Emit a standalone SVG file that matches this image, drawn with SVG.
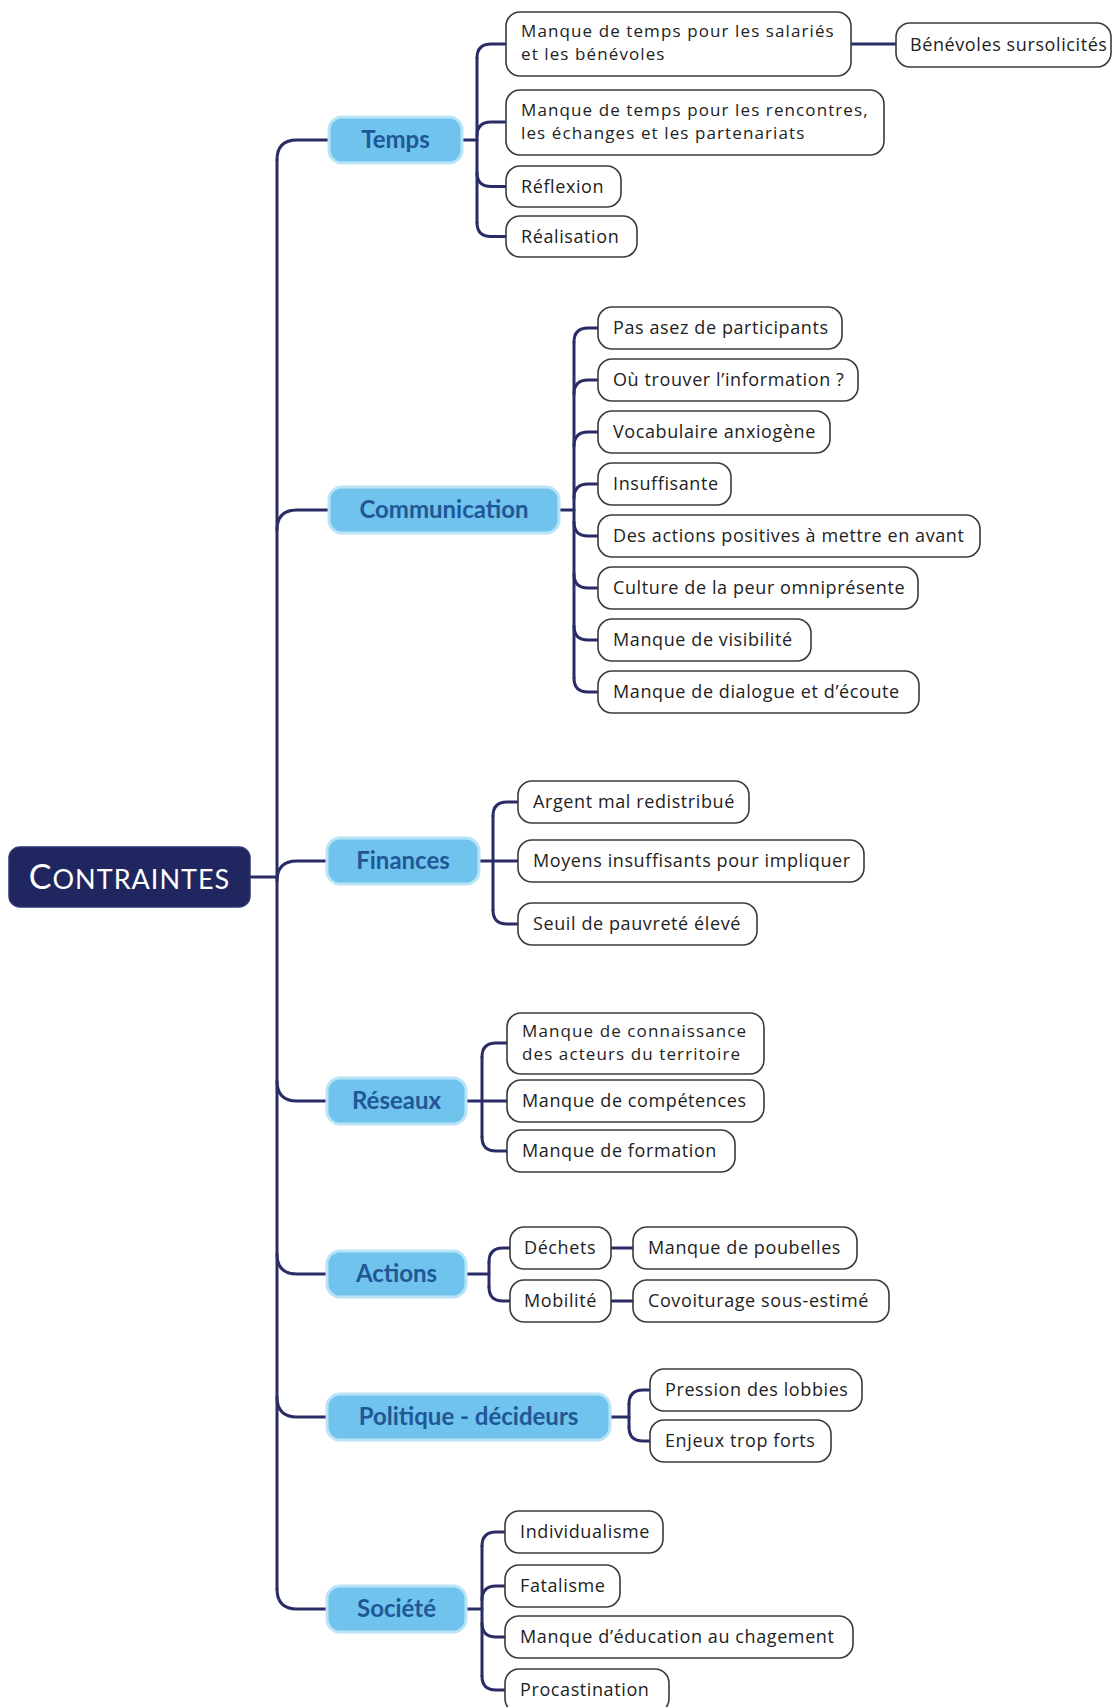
<svg xmlns="http://www.w3.org/2000/svg" width="1115" height="1707" viewBox="0 0 1115 1707">
<style>
.bg{fill:#ffffff}
.conn path{fill:none;stroke:#2a2c66;stroke-width:3;stroke-linecap:round}
.root rect{fill:#1f2660;stroke:#2e3572;stroke-width:1.5}
.root text{font-family:Lato,"Open Sans",sans-serif;fill:#ffffff;letter-spacing:1px}
.l1 rect{fill:#6fc3ec;stroke:#b9e3f6;stroke-width:3}
.l1 text{font-family:Lato,"Open Sans",sans-serif;font-weight:700;font-size:24px;fill:#1f5797;text-anchor:middle}
.l2 rect{fill:#ffffff;stroke:#3a3a3a;stroke-width:1.6}
.l2 text{font-family:"Open Sans","Noto Sans",sans-serif;font-size:18px;fill:#222222;letter-spacing:0.6px}
.l2 text.two{font-size:17px;letter-spacing:1.1px}
</style>
<rect class="bg" x="0" y="0" width="1115" height="1707"/>
<g id="connectors" class="conn">
<path d="M250,877 H277"/>
<path d="M277,160 V1589"/>
<path d="M277,160 Q277,140 297,140 H329"/>
<path d="M277,530 Q277,510 297,510 H329"/>
<path d="M277,881 Q277,861 297,861 H327"/>
<path d="M277,1081 Q277,1101 297,1101 H327"/>
<path d="M277,1254 Q277,1274 297,1274 H327"/>
<path d="M277,1397 Q277,1417 297,1417 H327"/>
<path d="M277,1589 Q277,1609 297,1609 H327"/>
<path d="M462,140 H477"/>
<path d="M477,58 V222.5"/>
<path d="M477,58 Q477,44 491,44 H506"/>
<path d="M477,136 Q477,122 491,122 H506"/>
<path d="M477,172.5 Q477,186.5 491,186.5 H506"/>
<path d="M477,222.5 Q477,236.5 491,236.5 H506"/>
<path d="M851,44 H896"/>
<path d="M559,510 H574"/>
<path d="M574,342 V678"/>
<path d="M574,342 Q574,328 588,328 H598"/>
<path d="M574,394 Q574,380 588,380 H598"/>
<path d="M574,446 Q574,432 588,432 H598"/>
<path d="M574,498 Q574,484 588,484 H598"/>
<path d="M574,522 Q574,536 588,536 H598"/>
<path d="M574,574 Q574,588 588,588 H598"/>
<path d="M574,626 Q574,640 588,640 H598"/>
<path d="M574,678 Q574,692 588,692 H598"/>
<path d="M479,861 H518"/>
<path d="M493,816 V910"/>
<path d="M493,816 Q493,802 507,802 H518"/>
<path d="M493,910 Q493,924 507,924 H518"/>
<path d="M466,1101 H507"/>
<path d="M482,1057 V1137"/>
<path d="M482,1057 Q482,1043 496,1043 H507"/>
<path d="M482,1137 Q482,1151 496,1151 H507"/>
<path d="M466,1274 H489"/>
<path d="M489,1262 V1287"/>
<path d="M489,1262 Q489,1248 503,1248 H510"/>
<path d="M489,1287 Q489,1301 503,1301 H510"/>
<path d="M611,1248 H633"/>
<path d="M611,1301 H633"/>
<path d="M610,1417 H629"/>
<path d="M629,1404 V1427"/>
<path d="M629,1404 Q629,1390 643,1390 H650"/>
<path d="M629,1427 Q629,1441 643,1441 H650"/>
<path d="M466,1609 H482"/>
<path d="M482,1546 V1676"/>
<path d="M482,1546 Q482,1532 496,1532 H505"/>
<path d="M482,1600 Q482,1586 496,1586 H505"/>
<path d="M482,1623 Q482,1637 496,1637 H505"/>
<path d="M482,1676 Q482,1690 496,1690 H505"/>
</g>
<g id="root" class="root">
<rect x="9" y="847" width="241" height="60" rx="11"/>
<text x="129.5" y="889" text-anchor="middle"><tspan font-size="34">C</tspan><tspan font-size="27">ONTRAINTES</tspan></text>
</g>
<g id="temps" class="l1"><rect x="329" y="117" width="133" height="46" rx="13"/><text x="395.5" y="148">Temps</text></g>
<g id="communication" class="l1"><rect x="329" y="487" width="230" height="46" rx="13"/><text x="444" y="518">Communication</text></g>
<g id="finances" class="l1"><rect x="327" y="838" width="152" height="46" rx="13"/><text x="403" y="869">Finances</text></g>
<g id="reseaux" class="l1"><rect x="327" y="1078" width="139" height="46" rx="13"/><text x="396.5" y="1109">Réseaux</text></g>
<g id="actions" class="l1"><rect x="327" y="1251" width="139" height="46" rx="13"/><text x="396.5" y="1282">Actions</text></g>
<g id="politique" class="l1"><rect x="327" y="1394" width="283" height="46" rx="13"/><text x="468.5" y="1425">Politique - décideurs</text></g>
<g id="societe" class="l1"><rect x="327" y="1586" width="139" height="46" rx="13"/><text x="396.5" y="1617">Société</text></g>

<g id="t1" class="l2"><rect x="506" y="12" width="345" height="64" rx="14"/><text class="two" x="521" y="37">Manque de temps pour les salariés</text><text class="two" x="521" y="60">et les bénévoles</text></g>
<g id="t1a" class="l2"><rect x="896" y="23" width="215" height="44" rx="14"/><text x="910" y="51">Bénévoles sursolicités</text></g>
<g id="t2" class="l2"><rect x="506" y="90" width="378" height="65" rx="14"/><text class="two" x="521" y="115.5">Manque de temps pour les rencontres,</text><text class="two" x="521" y="138.5">les échanges et les partenariats</text></g>
<g id="t3" class="l2"><rect x="506" y="166" width="115" height="41" rx="14"/><text x="521" y="193">Réflexion</text></g>
<g id="t4" class="l2"><rect x="506" y="216" width="131" height="41" rx="14"/><text x="521" y="243">Réalisation</text></g>

<g id="c1" class="l2"><rect x="598" y="307" width="244" height="42" rx="14"/><text x="613" y="334">Pas asez de participants</text></g>
<g id="c2" class="l2"><rect x="598" y="359" width="260" height="42" rx="14"/><text x="613" y="386">Où trouver l’information ?</text></g>
<g id="c3" class="l2"><rect x="598" y="411" width="232" height="42" rx="14"/><text x="613" y="438">Vocabulaire anxiogène</text></g>
<g id="c4" class="l2"><rect x="598" y="463" width="133" height="42" rx="14"/><text x="613" y="490">Insuffisante</text></g>
<g id="c5" class="l2"><rect x="598" y="515" width="382" height="42" rx="14"/><text x="613" y="542">Des actions positives à mettre en avant</text></g>
<g id="c6" class="l2"><rect x="598" y="567" width="320" height="42" rx="14"/><text x="613" y="594">Culture de la peur omniprésente</text></g>
<g id="c7" class="l2"><rect x="598" y="619" width="213" height="42" rx="14"/><text x="613" y="646">Manque de visibilité</text></g>
<g id="c8" class="l2"><rect x="598" y="671" width="321" height="42" rx="14"/><text x="613" y="698">Manque de dialogue et d’écoute</text></g>

<g id="f1" class="l2"><rect x="518" y="781" width="231" height="42" rx="14"/><text x="533" y="808">Argent mal redistribué</text></g>
<g id="f2" class="l2"><rect x="518" y="840" width="346" height="42" rx="14"/><text x="533" y="867">Moyens insuffisants pour impliquer</text></g>
<g id="f3" class="l2"><rect x="518" y="903" width="239" height="42" rx="14"/><text x="533" y="930">Seuil de pauvreté élevé</text></g>

<g id="r1" class="l2"><rect x="507" y="1013" width="257" height="61" rx="14"/><text class="two" x="522" y="1037">Manque de connaissance</text><text class="two" x="522" y="1060">des acteurs du territoire</text></g>
<g id="r2" class="l2"><rect x="507" y="1080" width="257" height="42" rx="14"/><text x="522" y="1107">Manque de compétences</text></g>
<g id="r3" class="l2"><rect x="507" y="1130" width="228" height="42" rx="14"/><text x="522" y="1157">Manque de formation</text></g>

<g id="a1" class="l2"><rect x="510" y="1227" width="101" height="42" rx="14"/><text x="524" y="1254">Déchets</text></g>
<g id="a1a" class="l2"><rect x="633" y="1227" width="224" height="42" rx="14"/><text x="648" y="1254">Manque de poubelles</text></g>
<g id="a2" class="l2"><rect x="510" y="1280" width="101" height="42" rx="14"/><text x="524" y="1307">Mobilité</text></g>
<g id="a2a" class="l2"><rect x="633" y="1280" width="256" height="42" rx="14"/><text x="648" y="1307">Covoiturage sous-estimé</text></g>

<g id="p1" class="l2"><rect x="650" y="1369" width="212" height="42" rx="14"/><text x="665" y="1396">Pression des lobbies</text></g>
<g id="p2" class="l2"><rect x="650" y="1420" width="181" height="42" rx="14"/><text x="665" y="1447">Enjeux trop forts</text></g>

<g id="s1" class="l2"><rect x="505" y="1511" width="158" height="42" rx="14"/><text x="520" y="1538">Individualisme</text></g>
<g id="s2" class="l2"><rect x="505" y="1565" width="115" height="42" rx="14"/><text x="520" y="1592">Fatalisme</text></g>
<g id="s3" class="l2"><rect x="505" y="1616" width="348" height="42" rx="14"/><text x="520" y="1643">Manque d’éducation au chagement</text></g>
<g id="s4" class="l2"><rect x="505" y="1669" width="164" height="44" rx="14"/><text x="520" y="1696">Procastination</text></g>
</svg>
